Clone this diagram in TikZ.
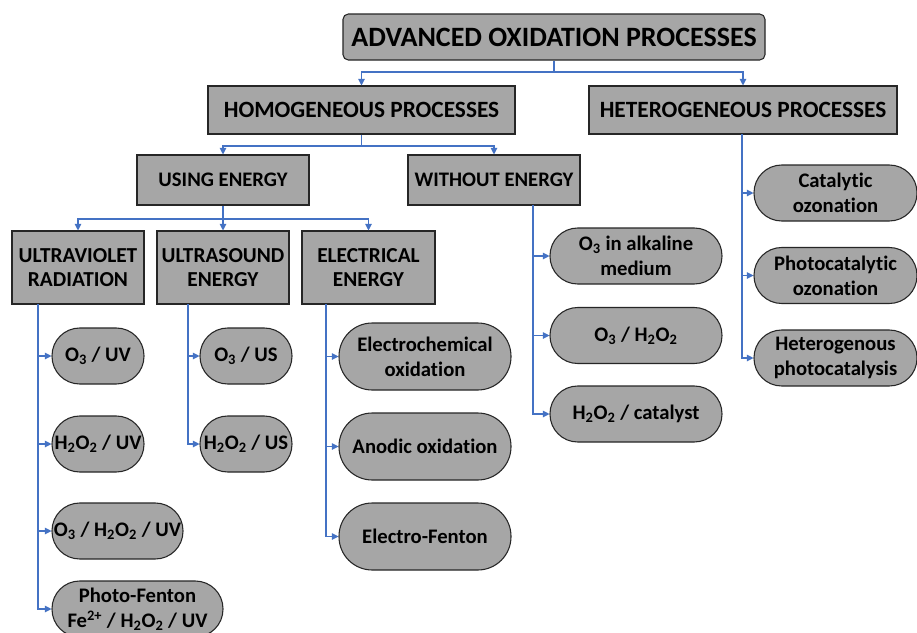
\documentclass[tikz,border=0pt]{standalone}
\usepackage{fontspec}
\setmainfont{Carlito}[Ligatures=NoCommon]
\usetikzlibrary{arrows.meta}
\definecolor{boxgray}{HTML}{A6A6A6}
\definecolor{lnblue}{HTML}{4472C4}
\newcommand{\sub}[1]{\textsubscript{#1}}
\begin{document}
\begin{tikzpicture}[x=0.75pt,y=-0.75pt,
  sq/.style args={#1/#2}{draw=black!85, fill=boxgray, line width=0.8pt,
    minimum width=#1*0.75pt, minimum height=#2*0.75pt, inner sep=0pt,
    align=center, font=\fontsize{15.5}{18}\selectfont\bfseries},
  pill/.style args={#1/#2}{sq={#1/#2}, rounded corners=#2*0.375pt-0.2pt,
    font=\fontsize{15.5}{19}\selectfont\bfseries},
  conn/.style={draw=lnblue, line width=0.8pt},
  arr/.style={conn, -{Triangle[length=5pt,width=5pt]}}]
\useasboundingbox (0,0) rectangle (917,632);
\clip (0,0) rectangle (917,632);
\fill[white] (0,0) rectangle (917,632);

% level 0
\node[sq={422/46}, rounded corners=4pt, font=\fontsize{21}{24}\selectfont\bfseries] (top) at (554,37) {ADVANCED OXIDATION PROCESSES};
% level 1
\node[sq={307/48}, font=\fontsize{17.5}{20}\selectfont\bfseries] (homog) at (361.5,110) {HOMOGENEOUS PROCESSES};
\node[sq={308/48}, font=\fontsize{17.5}{20}\selectfont\bfseries] (hetero) at (743,110) {HETEROGENEOUS PROCESSES};
% level 2
\node[sq={172/50}] (using) at (223,180) {USING ENERGY};
\node[sq={172/50}] (without) at (494,180) {WITHOUT ENERGY};
% level 3
\node[sq={132/73}, font=\fontsize{16}{18}\selectfont\bfseries] (uv) at (78,267.5) {ULTRAVIOLET\\RADIATION};
\node[sq={132/73}, font=\fontsize{16}{18}\selectfont\bfseries] (us) at (223,267.5) {ULTRASOUND\\ENERGY};
\node[sq={133/73}, font=\fontsize{16}{18}\selectfont\bfseries] (elec) at (368.5,267.5) {ELECTRICAL\\ENERGY};
% UV leaves
\node[pill={92/56}] (o3uv) at (98,356) {O\sub{3} / UV};
\node[pill={92/56}] (h2o2uv) at (98,444) {H\sub{2}O\sub{2} / UV};
\node[pill={131/56}] (o3h2o2uv) at (117.5,531) {O\sub{3} / H\sub{2}O\sub{2} / UV};
\node[pill={171/56}] (photo) at (137.5,609) {Photo-Fenton\\Fe\textsuperscript{2+} / H\sub{2}O\sub{2} / UV};
% US leaves
\node[pill={92/56}] (o3us) at (246,356) {O\sub{3} / US};
\node[pill={92/56}] (h2o2us) at (246,444) {H\sub{2}O\sub{2} / US};
% electrical leaves
\node[pill={172/67}] (echem) at (425,356.5) {Electrochemical\\oxidation};
\node[pill={172/67}] (anodic) at (425,446.5) {Anodic oxidation};
\node[pill={172/67}] (efenton) at (425,536.5) {Electro-Fenton};
% without energy leaves
\node[pill={172/56}] (alk) at (636,256) {O\sub{3} in alkaline\\medium};
\node[pill={172/56}] (o3h2o2) at (636,335.5) {O\sub{3} / H\sub{2}O\sub{2}};
\node[pill={172/56}] (h2o2cat) at (636,414) {H\sub{2}O\sub{2} / catalyst};
% heterogeneous leaves
\node[pill={163/56}] (catoz) at (835.5,193) {Catalytic\\ozonation};
\node[pill={163/56}] (photoz) at (835.5,275.5) {Photocatalytic\\ozonation};
\node[pill={163/56}] (hetphoto) at (835.5,358) {Heterogenous\\photocatalysis};

% tree connectors
\coordinate (j0) at (554,72);
\coordinate (j1) at (361.5,146);
\coordinate (j2) at (223,219);
\draw[conn] (top.south) -- (j0);
\draw[arr] (j0) -| (homog.north);
\draw[arr] (j0) -| (hetero.north);
\draw[conn] (homog.south) -- (j1);
\draw[arr] (j1) -| (using.north);
\draw[arr] (j1) -| (without.north);
\draw[conn] (using.south) -- (j2);
\draw[arr] (j2) -| (uv.north);
\draw[arr] (j2) -| (us.north);
\draw[arr] (j2) -| (elec.north);

% side branches
\coordinate (uvl) at (38,304);
\coordinate (usl) at (188,304);
\coordinate (ell) at (326,304);
\coordinate (wol) at (533,205);
\coordinate (hel) at (742,134);
\foreach \n in {o3uv,h2o2uv,o3h2o2uv,photo} \draw[arr] (uvl) |- (\n.west);
\foreach \n in {o3us,h2o2us} \draw[arr] (usl) |- (\n.west);
\foreach \n in {echem,anodic,efenton} \draw[arr] (ell) |- (\n.west);
\foreach \n in {alk,o3h2o2,h2o2cat} \draw[arr] (wol) |- (\n.west);
\foreach \n in {catoz,photoz,hetphoto} \draw[arr] (hel) |- (\n.west);
\end{tikzpicture}
\end{document}
